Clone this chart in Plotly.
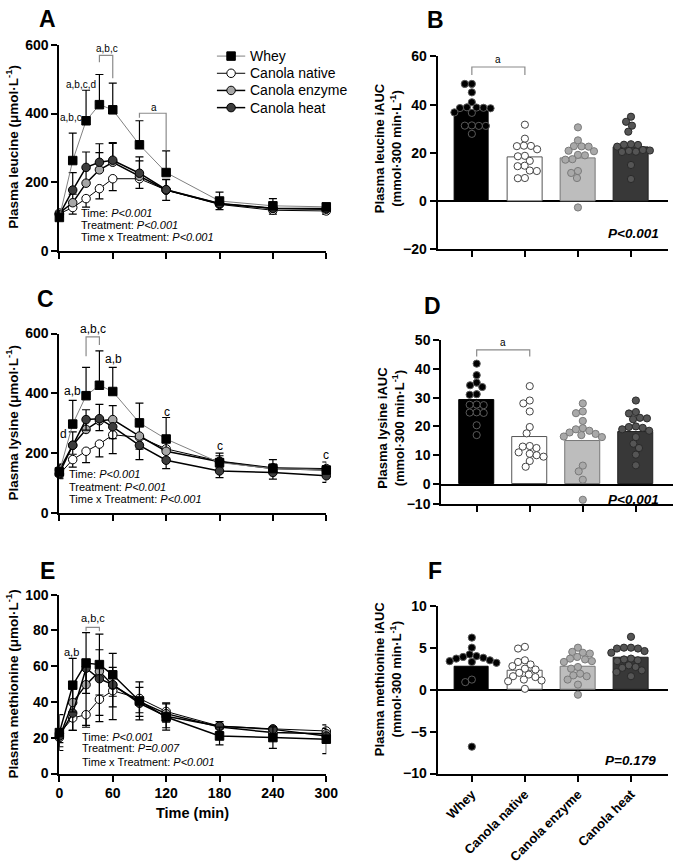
import numpy as np
import plotly.graph_objects as go

FONT = "Liberation Sans, Arial, Helvetica, sans-serif"
W, H = 685, 865

# ---------------- data ----------------
time_min = [0, 15, 30, 45, 60, 90, 120, 180, 240, 300]
groups = ["Whey", "Canola native", "Canola enzyme", "Canola heat"]

# Panel A - plasma leucine (umol/L), mean and SD
leu_whey = [97, 263, 379, 426, 411, 309, 228, 145, 131, 128]
leu_whey_sd = [20, 80, 89, 88, 78, 70, 63, 26, 21, 10]
leu_native = [108, 126, 152, 181, 210, 210, 177, 135, 118, 116]
leu_native_sd = [10, 19, 25, 30, 35, 28, 30, 15, 11, 10]
leu_enzyme = [110, 140, 197, 236, 258, 217, 177, 137, 123, 121]
leu_enzyme_sd = [10, 25, 40, 50, 55, 45, 30, 15, 12, 10]
leu_heat = [105, 177, 243, 258, 264, 226, 178, 138, 124, 123]
leu_heat_sd = [10, 51, 45, 54, 51, 48, 30, 15, 12, 10]

# Panel C - plasma lysine
lys_whey = [137, 297, 392, 427, 406, 301, 247, 168, 148, 143]
lys_whey_sd = [25, 79, 95, 115, 81, 66, 72, 32, 30, 27]
lys_native = [129, 178, 206, 230, 261, 253, 214, 173, 151, 148]
lys_native_sd = [15, 25, 38, 43, 63, 40, 30, 20, 15, 15]
lys_enzyme = [143, 226, 279, 308, 312, 257, 206, 171, 148, 143]
lys_enzyme_sd = [20, 45, 66, 55, 47, 40, 30, 20, 15, 15]
lys_heat = [132, 226, 312, 315, 288, 226, 176, 140, 135, 124]
lys_heat_sd = [15, 30, 35, 40, 40, 48, 28, 22, 22, 22]

# Panel E - plasma methionine
met_whey = [22.9, 49.4, 61.8, 60.9, 55.2, 40.6, 31.6, 21.0, 20.1, 19.2]
met_whey_sd = [10, 15, 17, 17, 12, 10.6, 7.3, 5, 6, 8]
met_native = [22.3, 31.1, 32.9, 41.5, 46.3, 42.0, 34.7, 26.5, 25.0, 23.8]
met_native_sd = [5, 7, 7, 9, 9, 8, 6, 3, 3, 3]
met_enzyme = [20.1, 39.7, 49.7, 57.2, 49.4, 40.2, 33.5, 26.0, 22.9, 22.3]
met_enzyme_sd = [5, 10, 12, 12, 10, 8, 6, 3, 3, 3]
met_heat = [21.0, 33.8, 58.9, 53.0, 49.7, 39.3, 32.0, 26.5, 24.7, 21.0]
met_heat_sd = [6, 9.7, 32, 24, 19.5, 7.3, 6.4, 4, 4, 4]

# Panel B - leucine iAUC (mmol*300 min/L)
leu_auc_bar = [37.7, 18.3, 17.9, 22.4]
leu_auc_whey = [48.6, 48.6, 45.1, 41.0, 38.9, 38.8, 38.7, 38.6, 38.5, 36.8, 36.6, 31.4, 31.3, 31.2, 31.2, 27.9]
leu_auc_native = [31.7, 25.9, 23.0, 22.9, 22.8, 21.5, 18.8, 18.6, 16.7, 14.7, 14.5, 12.7, 12.5, 9.6, 9.5]
leu_auc_enzyme = [30.6, 25.2, 22.8, 22.7, 22.6, 20.9, 20.7, 19.2, 19.0, 17.4, 17.2, 12.5, 11.7, 9.6, -2.6]
leu_auc_heat = [35.0, 32.9, 31.3, 28.8, 23.6, 23.4, 23.3, 22.6, 21.2, 21.0, 20.8, 20.5, 20.4, 15.0, 9.2]

# Panel D - lysine iAUC
lys_auc_bar = [29.0, 16.2, 15.1, 18.2]
lys_auc_whey = [41.8, 37.8, 35.2, 34.3, 33.7, 31.2, 31.0, 27.6, 27.5, 27.4, 24.9, 24.8, 24.7, 20.4, 17.0]
lys_auc_native = [34.0, 29.0, 28.0, 25.2, 19.8, 17.6, 13.2, 13.0, 12.5, 11.0, 10.5, 10.0, 9.5, 8.0, 6.0]
lys_auc_enzyme = [28.0, 25.2, 24.6, 21.9, 19.4, 19.0, 18.5, 17.9, 17.4, 17.0, 16.5, 16.3, 6.4, 4.4, 1.5, -7.9]
lys_auc_heat = [29.0, 25.0, 24.5, 23.0, 22.8, 22.5, 20.0, 19.8, 19.5, 19.0, 18.5, 16.3, 14.0, 12.5, 10.2, 6.5]

# Panel F - methionine iAUC
met_auc_bar = [2.77, 2.26, 2.77, 3.75]
met_auc_whey = [6.2, 5.0, 4.2, 4.0, 3.9, 3.8, 3.7, 3.5, 3.4, 3.3, 3.2, 1.2, 0.9, -6.8]
met_auc_native = [5.1, 4.9, 3.5, 3.3, 3.0, 2.8, 2.5, 2.4, 2.0, 1.8, 1.6, 1.5, 1.2, 1.1, 1.0, 0.1]
met_auc_enzyme = [5.0, 4.5, 4.4, 4.3, 3.9, 3.7, 3.6, 3.4, 3.3, 2.7, 2.5, 1.9, 1.7, 1.6, 1.2, 0.6, -0.6]
met_auc_heat = [6.3, 5.0, 5.0, 4.9, 4.9, 4.6, 4.4, 3.7, 3.6, 3.5, 3.4, 2.9, 2.7, 2.6, 2.3, 2.1, 1.6]

# ---------------- styling ----------------
LINE_MARK = {
    "Whey": dict(symbol="square", color="black", lc="black"),
    "Canola native": dict(symbol="circle", color="white", lc="black"),
    "Canola enzyme": dict(symbol="circle", color="#a6a6a6", lc="black"),
    "Canola heat": dict(symbol="circle", color="#3c3c3c", lc="black"),
}
BAR_FILL = ["#000000", "#ffffff", "#bdbdbd", "#383838"]
BAR_EDGE = ["#000000", "#555555", "#777777", "#222222"]
DOT_FILL = ["#000000", "#ffffff", "#a9a9a9", "#555555"]
DOT_EDGE = ["#5a5a5a", "#444444", "#7a7a7a", "#2a2a2a"]


def px_x(p):
    return p / W


def px_y(p):
    return 1 - p / H


fig = go.Figure()

AXIS = dict(showline=True, linecolor="black", linewidth=2, ticks="outside", ticklen=6,
            tickwidth=2, tickcolor="black", showgrid=False, zeroline=False,
            tickfont=dict(family=FONT, size=14, color="black", weight="bold"))

# ---------- line panels ----------
line_panels = [
    ("x", "y", [leu_whey, leu_native, leu_enzyme, leu_heat],
     [leu_whey_sd, leu_native_sd, leu_enzyme_sd, leu_heat_sd],
     ["up", "down", "up", "up"], "#808080"),
    ("x3", "y3", [lys_whey, lys_native, lys_enzyme, lys_heat],
     [lys_whey_sd, lys_native_sd, lys_enzyme_sd, lys_heat_sd],
     ["up", "down", "up", "down"], "#808080"),
    ("x5", "y5", [met_whey, met_native, met_enzyme, met_heat],
     [met_whey_sd, met_native_sd, met_enzyme_sd, met_heat_sd],
     ["both", "down", "up", "down"], "black"),
]


def line_width(gi, whey_line):
    if gi == 0:
        return 1 if whey_line != "black" else 1.5
    return 1 if gi == 1 else 1.5


for xa, ya, series, sds, dirs, whey_line in line_panels:
    for gi in [1, 2, 3, 0]:
        name = groups[gi]
        st = LINE_MARK[name]
        sd = sds[gi]
        zeros = [0] * len(sd)
        up = sd if dirs[gi] in ("up", "both") else zeros
        dn = sd if dirs[gi] in ("down", "both") else zeros
        lc = whey_line if gi == 0 else "black"
        fig.add_trace(go.Scatter(
            x=time_min, y=series[gi], xaxis=xa, yaxis=ya, name=name,
            mode="lines+markers", showlegend=False,
            line=dict(color=lc, width=line_width(gi, whey_line)),
            marker=dict(symbol=st["symbol"], size=8.5, color=st["color"],
                        line=dict(color=st["lc"], width=1)),
            error_y=dict(type="data", symmetric=False, array=up, arrayminus=dn,
                         color="black", thickness=1.2, width=4),
            cliponaxis=False, hoverinfo="skip"))

# ---------- bar panels ----------
def swarm_offsets(vals, ppx, ppy, d=7.2):
    ys = [ppy(v) for v in vals]
    order = np.argsort(-np.array(vals), kind="stable")
    placed = []
    offs = [0.0] * len(vals)
    for i in order:
        y = ys[i]
        cands = [0.0]
        for xp, yp in placed:
            dy = abs(y - yp)
            if dy < d:
                dx = float(np.sqrt(d * d - dy * dy))
                cands += [xp + dx, xp - dx]
        cands.sort(key=lambda c: (abs(c), c))
        chosen = 0.0
        for c in cands:
            if all((c - xp) ** 2 + (y - yp) ** 2 >= d * d - 1e-6 for xp, yp in placed):
                chosen = c
                break
        placed.append((chosen, y))
        offs[i] = chosen / ppx
    return offs


# geometry of bar panels (pixels left, right; category range)
B_X = (444, 680, -0.645, 3.70)
D_X = (447.7, 685, -0.668, 3.70)
F_X = (444, 680, -0.645, 3.70)

bar_panels = [
    ("x2", "y2", None, None, leu_auc_bar, [leu_auc_whey, leu_auc_native, leu_auc_enzyme, leu_auc_heat],
     B_X, lambda v: v * (246 - 49.3) / 80.0),
    ("x4", "y4", "x7", "y7", lys_auc_bar, [lys_auc_whey, lys_auc_native, lys_auc_enzyme, lys_auc_heat],
     D_X, lambda v: v * (485 - 338.3) / 50.0 if v >= 0 else v * (505.3 - 485) / 10.0),
    ("x6", "y6", None, None, met_auc_bar, [met_auc_whey, met_auc_native, met_auc_enzyme, met_auc_heat],
     F_X, lambda v: v * (780 - 609) / 20.0),
]
for xa, ya, xneg, yneg, bars, dots, geo, ppy in bar_panels:
    ppx = (geo[1] - geo[0]) / (geo[3] - geo[2])
    fig.add_trace(go.Bar(
        x=list(range(4)), y=bars, xaxis=xa, yaxis=ya, width=0.65,
        marker=dict(color=BAR_FILL, line=dict(color=BAR_EDGE, width=1)),
        showlegend=False, hoverinfo="skip"))
    for gi in range(4):
        vals = dots[gi]
        offs = swarm_offsets(vals, ppx, ppy)
        xs = [gi + o for o in offs]
        pos = [(x, v) for x, v in zip(xs, vals) if v >= 0 or yneg is None]
        neg = [(x, v) for x, v in zip(xs, vals) if v < 0 and yneg is not None]
        for pts, xax, yax in [(pos, xa, ya), (neg, xneg, yneg)]:
            if not pts:
                continue
            fig.add_trace(go.Scatter(
                x=[p[0] for p in pts], y=[p[1] for p in pts], xaxis=xax, yaxis=yax,
                mode="markers", showlegend=False, hoverinfo="skip", cliponaxis=False,
                marker=dict(symbol="circle", size=7.2, color=DOT_FILL[gi],
                            line=dict(color=DOT_EDGE[gi], width=1))))

# ---------- legend (drawn on a hidden pixel-space overlay axis) ----------
LEG_LINE = (218, 247)
LEG_TOP = 49
LEG_DY = 17.5
LEG_TEXT_X = 250
leg_line_color = ["#808080", "black", "black", "black"]
for gi, name in enumerate(groups):
    st = LINE_MARK[name]
    yy = LEG_TOP + gi * LEG_DY
    fig.add_trace(go.Scatter(
        x=[LEG_LINE[0], LEG_LINE[1]], y=[yy, yy], xaxis="x8", yaxis="y8",
        mode="lines", line=dict(color=leg_line_color[gi], width=line_width(gi, "#808080")),
        showlegend=False, hoverinfo="skip", cliponaxis=False))
    fig.add_trace(go.Scatter(
        x=[(LEG_LINE[0] + LEG_LINE[1]) / 2], y=[yy], xaxis="x8", yaxis="y8",
        mode="markers", marker=dict(symbol=st["symbol"], size=8.5, color=st["color"],
                                    line=dict(color=st["lc"], width=1)),
        showlegend=False, hoverinfo="skip", cliponaxis=False))

# ---------- axes ----------
def line_x(domain_px, labels):
    return dict(AXIS, domain=[px_x(domain_px[0]), px_x(domain_px[1])], range=[0, 300],
                tickvals=[0, 60, 120, 180, 240, 300], showticklabels=labels)

lay = dict(
    xaxis=dict(line_x((56.7, 330), False), anchor="y"),
    yaxis=dict(AXIS, domain=[px_y(247.3), px_y(37.7)], range=[0, 600], tickvals=[0, 200, 400, 600], anchor="x"),
    xaxis3=dict(line_x((56.7, 330), False), anchor="y3"),
    yaxis3=dict(AXIS, domain=[px_y(514.3), px_y(331.7)], range=[0, 600], tickvals=[0, 200, 400, 600], anchor="x3"),
    xaxis5=dict(line_x((56.7, 330), True), anchor="y5"),
    yaxis5=dict(AXIS, domain=[px_y(780), px_y(597.7)], range=[0, 100], tickvals=[0, 20, 40, 60, 80, 100], anchor="x5"),
    xaxis8=dict(domain=[0, 1], range=[0, W], visible=False, fixedrange=True, anchor="y8"),
    yaxis8=dict(domain=[0, 1], range=[H, 0], visible=False, fixedrange=True, anchor="x8"),
)

def bar_x(geo, anchor, labels, ticks=True):
    d = dict(AXIS, domain=[px_x(geo[0]), min(1.0, px_x(geo[1]))], range=[geo[2], geo[3]],
             tickvals=[0, 1, 2, 3], ticktext=groups, showticklabels=labels, anchor=anchor)
    if labels:
        d["tickangle"] = -45
        d["tickfont"] = dict(family=FONT, size=13, color="black", weight="bold")
    if not ticks:
        d["ticks"] = ""
    return d

lay["xaxis2"] = bar_x(B_X, "y2", False)
lay["yaxis2"] = dict(AXIS, domain=[px_y(246), px_y(49.3)], range=[-20, 60], tickvals=[-20, 0, 20, 40, 60],
                     anchor="x2", zeroline=True, zerolinecolor="black", zerolinewidth=2)
lay["xaxis4"] = bar_x(D_X, "y4", False, ticks=False)
lay["yaxis4"] = dict(AXIS, domain=[px_y(485), px_y(338.3)], range=[0, 50], tickvals=[0, 10, 20, 30, 40, 50], anchor="x4")
lay["xaxis7"] = bar_x(D_X, "y7", False)
lay["yaxis7"] = dict(AXIS, domain=[px_y(505.3), px_y(485)], range=[-10, 0], tickvals=[-10], anchor="x7")
lay["xaxis6"] = bar_x(F_X, "y6", True)
lay["yaxis6"] = dict(AXIS, domain=[px_y(780), px_y(609)], range=[-10, 10], tickvals=[-10, -5, 0, 5, 10],
                     anchor="x6", zeroline=True, zerolinecolor="black", zerolinewidth=2)

# ---------- annotations ----------
ann = []

def paper_text(text, x, y, size, bold=False, xanchor="center", angle=0, italic=False):
    ann.append(dict(text=text, x=px_x(x), y=px_y(y), xref="paper", yref="paper", showarrow=False,
                    xanchor=xanchor, yanchor="middle", textangle=angle,
                    font=dict(family=FONT, size=size, color="black",
                              weight="bold" if bold else "normal",
                              style="italic" if italic else "normal")))

for letter, x, y in [("A", 45, 11), ("B", 442, 12), ("C", 43, 296), ("D", 439, 304), ("E", 45, 574), ("F", 441, 574)]:
    paper_text(letter, x, y, 23, bold=True)

for gi, name in enumerate(groups):
    paper_text(name, LEG_TEXT_X, LEG_TOP + gi * LEG_DY, 14, xanchor="left")

paper_text("Plasma leucine (\u03bcmol\u00b7L<sup>-1</sup>)", 8.5, 141, 13.5, bold=True, angle=-90)
paper_text("Plasma lysine (\u03bcmol\u00b7L<sup>-1</sup>)", 8.5, 423, 13.5, bold=True, angle=-90)
paper_text("Plasma methionine (\u03bcmol\u00b7L<sup>-1</sup>)", 8.5, 689, 13.5, bold=True, angle=-90)
paper_text("Plasma leucine iAUC<br>(mmol\u00b7300 min\u00b7L<sup>-1</sup>)", 394, 143, 13, bold=True, angle=-90)
paper_text("Plasma lysine iAUC<br>(mmol\u00b7300 min\u00b7L<sup>-1</sup>)", 396, 428, 13, bold=True, angle=-90)
paper_text("Plasma methionine iAUC<br>(mmol\u00b7300 min\u00b7L<sup>-1</sup>)", 394, 684, 13, bold=True, angle=-90)
paper_text("Time (min)", 193, 820, 14.5, bold=True)

for x0, ys, ptxt in [(76.7, (209.3, 221, 233.3), ("<0.001", "<0.001", "<0.001")),
                     (65, (475, 488.3, 500), ("<0.001", "<0.001", "<0.001")),
                     (78.3, (742.7, 754, 768.3), ("<0.001", "=0.007", "<0.001"))]:
    labels = ["Time: ", "Treatment: ", "Time x Treatment: "]
    for lab, yy, pv in zip(labels, ys, ptxt):
        pv_html = pv.replace("<", "&lt;")
        paper_text(lab + "<i>P" + pv_html + "</i>", x0, yy, 11, xanchor="left")

for txt, x, y in [("P&lt;0.001", 673, 230), ("P&lt;0.001", 673, 501), ("P=0.179", 670, 767)]:
    paper_text(txt, x, y, 13.5, bold=True, italic=True, xanchor="right")

# significance letters above the curves / bars
paper_text("a,b,c", 90.7, 326.7, 12)
data_labels = [
    ("x", "y", 10, [("a,b,c", 13.5, 388), ("a,b,c,d", 24.5, 484), ("a,b,c", 53.6, 589), ("a", 106, 417)]),
    ("x3", "y3", 12, [("d", 4.7, 264), ("a,b", 14.6, 408), ("a,b", 60.4, 516),
                      ("c", 120.8, 339), ("c", 180, 225), ("c", 300, 195)]),
    ("x5", "y5", 11, [("a,b", 14, 68), ("a,b,c", 37.5, 86.7)]),
    ("x2", "y2", 10, [("a", 0.5, 58.8)]),
    ("x4", "y4", 10, [("a", 0.5, 49.2)]),
]
for xa, ya, size, items in data_labels:
    for txt, x, y in items:
        ann.append(dict(text=txt, x=x, y=y, xref=xa, yref=ya, showarrow=False,
                        xanchor="center", yanchor="middle",
                        font=dict(family=FONT, size=size, color="black")))

# brackets (left x, right x, top, left-leg bottom, right-leg bottom)
brackets = [
    ("x", "y", 45, 60, 570, 550, 503),
    ("x", "y", 90, 120, 401, 388, 293),
    ("x3", "y3", 30, 45, 589, 524, 562),
    ("x5", "y5", 30, 45, 81.7, 79.5, 79.5),
    ("x2", "y2", 0, 1, 55.6, 52.3, 52.3),
    ("x4", "y4", 0, 1, 46.6, 44.3, 44.3),
]
shapes = []
for xa, ya, xl, xr, top, bl, br in brackets:
    shapes.append(dict(type="path", xref=xa, yref=ya,
                       path=f"M {xl},{bl} L {xl},{top} L {xr},{top} L {xr},{br}",
                       line=dict(color="#8a8a8a", width=1.2)))

fig.update_layout(
    width=W, height=H, margin=dict(l=0, r=0, t=0, b=0),
    paper_bgcolor="white", plot_bgcolor="rgba(0,0,0,0)",
    font=dict(family=FONT, color="black"),
    showlegend=False,
    annotations=ann, shapes=shapes, bargap=0,
    **lay)

fig.write_html("out.html", post_script="document.body.style.margin='0';document.body.style.padding='0';")
